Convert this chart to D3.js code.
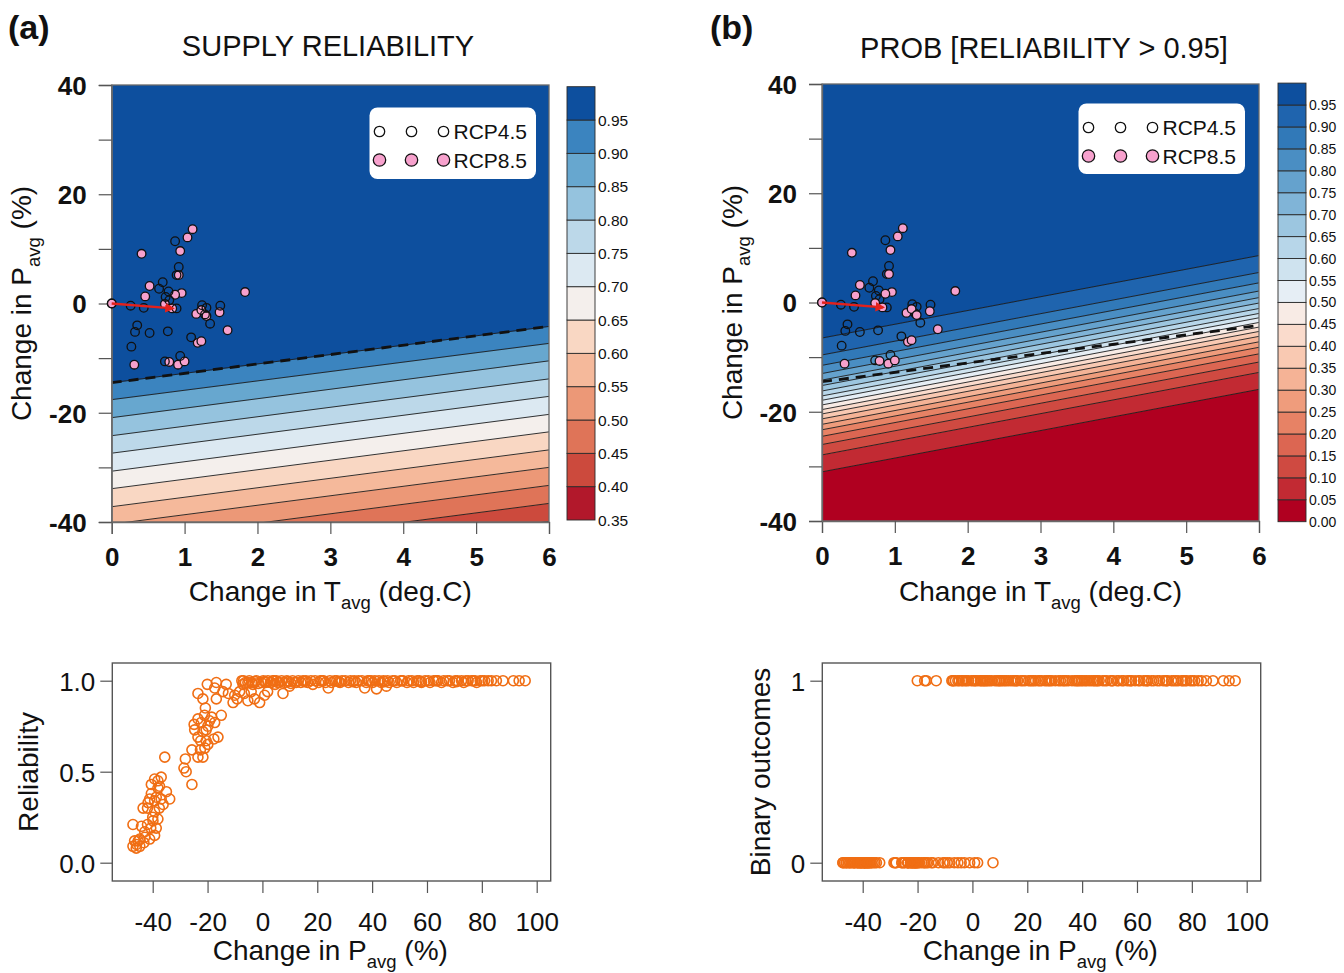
<!DOCTYPE html>
<html>
<head>
<meta charset="utf-8">
<script src="https://cdn.jsdelivr.net/npm/d3@7"></script>
<style>
  body { margin: 0; background: #fff; }
  svg { font-family: "Liberation Sans", Arial, sans-serif; }
</style>
</head>
<body>
<div id="chart"></div>
<script>
// ---- contour levels: P (%) where each level line hits T=0 and T=6
const relLevels = [0.40, 0.45, 0.50, 0.55, 0.60, 0.65, 0.70, 0.75, 0.80, 0.85, 0.90, 0.95];
const relAtT0 = [-50.3, -47.0, -43.7, -40.4, -37.2, -33.9, -30.7, -27.4, -24.2, -20.9, -17.6, -14.5];
const relAtT6 = [-39.9, -36.6, -33.3, -30.0, -26.8, -23.5, -20.3, -17.0, -13.8, -10.5, -7.3, -4.2];
const relBreaks = [0.35, 0.40, 0.45, 0.50, 0.55, 0.60, 0.65, 0.70, 0.75, 0.80, 0.85, 0.90, 0.95, 1.00];

const probLevels = [0.05, 0.10, 0.15, 0.20, 0.25, 0.30, 0.35, 0.40, 0.45, 0.50,
                    0.55, 0.60, 0.65, 0.70, 0.75, 0.80, 0.85, 0.90, 0.95];
const probAtT0 = [-31.0, -27.9, -26.0, -24.5, -23.3, -22.3, -21.3, -20.4, -19.6, -18.75,
                  -17.9, -17.1, -16.2, -15.2, -14.2, -13.0, -11.5, -9.6, -6.5];
const probAtT6 = [-15.9, -12.8, -10.9, -9.4, -8.2, -7.2, -6.2, -5.3, -4.5, -3.65,
                  -2.8, -2.0, -1.1, -0.1, 0.9, 2.1, 3.6, 5.5, 8.6];
const probBreaks = [0.00, 0.05, 0.10, 0.15, 0.20, 0.25, 0.30, 0.35, 0.40, 0.45, 0.50,
                    0.55, 0.60, 0.65, 0.70, 0.75, 0.80, 0.85, 0.90, 0.95, 1.00];

// reliability = 0.95 threshold (dashed)
const threshT = [0, 6];
const threshP = [-14.5, -4.2];

// GCM projections
const rcp45T = [0, 0.26, 0.44, 0.35, 0.32, 0.52, 0.27, 0.70, 0.65, 0.78, 0.74, 0.79, 0.89,
                0.77, 0.92, 0.89, 0.87, 1.24, 1.30, 1.35, 1.49, 1.09, 0.73, 0.94, 1.28];
const rcp45P = [0, -0.4, -0.8, -4.0, -5.2, -5.4, -7.9, 3.9, 2.7, 2.2, 1.2, 0.6, -0.9,
                -5.1, 6.7, 5.2, 11.4, -0.3, -0.8, -3.7, -0.4, -6.2, -10.6, -9.6, -2.0];
const rcp85T = [1.11, 1.04, 0.41, 0.94, 0.92, 0.52, 0.46, 0.96, 0.87, 0.73, 0.83, 1.83,
                1.16, 1.23, 1.30, 1.48, 1.59, 1.18, 1.23, 0.31, 0.79, 0.91, 1.00, 0];
const rcp85P = [13.6, 12.1, 9.1, 9.6, 5.2, 3.2, 1.3, 1.9, 1.6, -0.1, -0.9, 2.1,
                -1.9, -1.2, -2.3, -1.6, -4.9, -7.2, -6.9, -11.2, -10.7, -11.2, -10.6, 0];
const arrowT = [0, 0.84];
const arrowP = [0, -0.9];

// stress test runs: [change in P (%), reliability]
const runs = [
  [-47.2,0.09],[-46.0,0.08],[-44.7,0.09],[-46.6,0.12],[-44.7,0.13],[-42.9,0.14],[-41.1,0.13],
  [-39.3,0.15],[-45.3,0.12],[-47.2,0.21],[-44.1,0.20],[-41.9,0.21],[-39.9,0.23],[-38.1,0.24],
  [-40.7,0.19],[-42.9,0.17],[-38.7,0.19],[-43.5,0.30],[-41.9,0.30],[-41.1,0.35],[-40.5,0.38],
  [-38.7,0.36],[-36.9,0.35],[-35.0,0.39],[-33.8,0.35],[-41.7,0.33],[-39.3,0.34],[-38.1,0.45],
  [-36.9,0.47],[-39.3,0.46],[-40.5,0.43],[-38.1,0.41],[-36.2,0.32],[-39.3,0.28],[-37.5,0.42],
  [-40.0,0.25],[-35.6,0.58],[-45.9,0.10],[-43.2,0.11],[-37.6,0.30],
  [-28.1,0.57],[-28.6,0.52],[-27.8,0.50],[-25.7,0.43],[-25.7,0.62],[-22.6,0.62],[-23.5,0.58],
  [-21.7,0.58],[-22.5,0.67],[-20.5,0.67],[-17.7,0.68],[-16.2,0.69],[-19.9,0.65],[-21.0,0.63],
  [-24.9,0.76],[-23.5,0.79],[-21.1,0.81],[-19.3,0.78],[-17.4,0.77],[-24.7,0.73],[-21.7,0.72],
  [-19.9,0.75],[-23.5,0.69],[-15.0,0.81],[-20.5,0.73],[-22.3,0.77],[-18.5,0.80],[-20.8,0.85],
  [-23.5,0.93],[-21.7,0.90],[-20.1,0.98],[-16.8,0.99],[-17.4,0.96],[-16.8,0.90],[-14.4,0.94],
  [-13.2,0.98],[-10.7,0.88],[-10.1,0.92],[-8.3,0.94],[-7.1,0.98],[-5.3,0.99],[-5.3,0.89],
  [-2.9,0.90],[-1.0,0.88],[-3.5,0.98],[-0.4,0.99],[0.8,0.92],[3.2,0.99],[5.6,0.99],[7.5,0.93],
  [9.9,0.97],[11.7,0.99],[24.0,0.96],[37.3,0.96],[41.6,0.955],[45.2,0.97],
  [-12.4,0.93],[-9.2,0.90],[-6.6,0.93],[-4.1,0.94],[1.9,0.94],
  [-7.5,1],[-6.2,0.99],[-4.8,1],[-3.9,0.99],[-2.2,1],[-1.5,0.985],[0.3,1],[1.2,0.99],[2.0,1],
  [2.9,0.99],[3.8,1],[4.6,0.98],[5.1,1],[6.3,0.99],[7.0,1],[8.2,0.99],[8.9,1],[10.4,0.985],
  [11.0,1],[12.3,0.99],[13.1,1],[14.0,0.99],[14.8,1],[15.9,1],[16.5,0.99],[17.7,1],[18.4,0.98],
  [19.2,1],[20.5,0.99],[21.1,1],[22.3,1],[23.0,0.99],[24.6,1],[25.2,0.99],[26.4,1],[27.1,1],
  [28.3,0.99],[29.0,1],[30.2,1],[31.4,0.99],[32.1,1],[33.5,1],[34.2,0.99],[35.0,1],[36.3,1],
  [37.9,0.99],[38.4,1],[39.6,1],[40.2,0.99],[41.0,1],[42.5,1],[43.3,0.99],[44.1,1],[45.6,1],
  [46.2,0.99],[47.5,1],[48.3,1],[49.0,0.99],[50.4,1],[51.2,1],[52.7,0.99],[53.3,1],[54.5,1],
  [55.1,0.99],[56.4,1],[57.2,1],[58.0,0.99],[59.3,1],[60.5,1],[61.1,0.99],[62.4,1],[63.2,1],
  [64.0,1],[65.3,0.99],[66.1,1],[67.4,1],[68.2,1],[69.5,0.99],[70.3,1],[71.1,1],[72.6,1],
  [73.4,0.99],[74.2,1],[75.0,1],[76.3,1],[77.5,1],[78.1,0.99],[79.4,1],[80.2,1],[81.0,1],
  [82.3,1],[83.5,1],[85.3,1],[87.7,1],[91.5,1],[93.6,1],[95.8,1],
  [-6.9,1],[-2.7,0.995],[0.9,0.995],[4.2,1],[9.5,0.995],[15.4,0.995],[21.7,1],[27.8,0.995],
  [33.0,0.995],[38.9,1],[44.6,0.995],[50.9,1],[57.8,0.995],[63.7,1],[70.8,0.995],[76.8,1]
];

const xTicksT = [0, 1, 2, 3, 4, 5, 6];
const yTicksP = [-40, -30, -20, -10, 0, 10, 20, 30, 40];
const xTicksBottom = [-40, -20, 0, 20, 40, 60, 80, 100];

// colours
const relColors = ["#b2182b","#cc4a3d","#df7458","#ec9877","#f5b99b","#f9d7c3","#f4efec",
                   "#dce9f2","#bcd8e9","#95c3de","#67a7cf","#3b84bf","#0d4f9e"];
const probColors = ["#b00020","#c22a33","#cf4a41","#dc6652","#e78265","#ef9c7c","#f5b396",
                    "#f9c9b2","#fadbcc","#f8ebe5","#e6eef5","#cfe3ef","#b7d6e9","#9cc6e0",
                    "#80b4d7","#65a2cd","#4a8ec3","#3179b8","#1f64ae","#0d4f9e"];
const pink = "#f7a1cd";
const orange = "#f06e14";

const svg = d3.select("#chart").append("svg")
  .attr("width", 1344)
  .attr("height", 973);

svg.append("defs").append("marker")
  .attr("id", "arrowhead")
  .attr("viewBox", "0 0 10 10")
  .attr("refX", 8).attr("refY", 5)
  .attr("markerWidth", 4).attr("markerHeight", 4)
  .attr("orient", "auto")
  .append("path").attr("d", "M0,0 L10,5 L0,10 z").attr("fill", "#e3211c");

// subscript label helper
function subLabel(t, before, sub, after, size) {
  t.append("tspan").text(before);
  t.append("tspan").attr("font-size", size * 0.66).attr("dy", size * 0.3).text(sub);
  t.append("tspan").attr("dy", -size * 0.3).text(after);
}

function contourPanel(cfg) {
  var x = d3.scaleLinear().domain([0, 6]).range(cfg.xRange);
  var y = d3.scaleLinear().domain([-40, 40]).range(cfg.yRange);
  var g = svg.append("g");

  svg.select("defs").append("clipPath").attr("id", "clip" + cfg.id)
    .append("rect")
    .attr("x", x(0)).attr("y", y(40))
    .attr("width", x(6) - x(0)).attr("height", y(-40) - y(40));

  var inner = g.append("g").attr("clip-path", "url(#clip" + cfg.id + ")");

  var area = d3.area()
    .x(d => x(d[0]))
    .y0(d => y(d[1]))
    .y1(d => y(d[2]));
  var n = cfg.at0.length;
  cfg.colors.forEach(function(c, i) {
    var lo0 = i === 0 ? -300 : cfg.at0[i - 1];
    var lo6 = i === 0 ? -300 : cfg.at6[i - 1];
    var hi0 = i === n ? 300 : cfg.at0[i];
    var hi6 = i === n ? 300 : cfg.at6[i];
    inner.append("path")
      .attr("d", area([[0, lo0, hi0], [6, lo6, hi6]]))
      .attr("fill", c)
      .attr("stroke", c).attr("stroke-width", 0.5);
  });

  var line = d3.line().x(d => x(d[0])).y(d => y(d[1]));
  cfg.at0.forEach(function(p, i) {
    inner.append("path")
      .attr("d", line([[0, p], [6, cfg.at6[i]]]))
      .attr("fill", "none")
      .attr("stroke", "#1c1c1c")
      .attr("stroke-width", 0.9);
  });

  // dashed 0.95 reliability threshold
  g.append("path")
    .attr("d", line(threshT.map((t, i) => [t, threshP[i]])))
    .attr("fill", "none")
    .attr("stroke", "#111")
    .attr("stroke-width", 2.8)
    .attr("stroke-dasharray", "10,7");

  // box
  g.append("rect")
    .attr("x", x(0)).attr("y", y(40))
    .attr("width", x(6) - x(0)).attr("height", y(-40) - y(40))
    .attr("fill", "none").attr("stroke", "#6a6a6a").attr("stroke-width", 1.3);

  // axes
  var ax = g.append("g").attr("transform", "translate(0," + y(-40) + ")")
    .call(d3.axisBottom(x).tickValues(xTicksT).tickSize(12).tickPadding(14).tickFormat(d => d));
  var ay = g.append("g").attr("transform", "translate(" + x(0) + ",0)")
    .call(d3.axisLeft(y).tickValues(yTicksP).tickSize(13).tickPadding(12)
      .tickFormat(d => d % 20 === 0 ? d : ""));
  [ax, ay].forEach(function(a) {
    a.select(".domain").attr("stroke", "#6a6a6a").attr("stroke-width", 1.3);
    a.selectAll(".tick line").attr("stroke", "#555").attr("stroke-width", 1.2);
    a.selectAll("text").attr("font-size", 26).attr("font-weight", "bold")
      .attr("fill", "#111").attr("font-family", "Liberation Sans, Arial, sans-serif");
  });
  ay.selectAll("text").attr("dy", "0.36em");

  // points
  function drawSet(T, P, fill) {
    g.selectAll(null).data(T).enter().append("circle")
      .attr("cx", d => x(d))
      .attr("cy", (d, i) => y(P[i]))
      .attr("r", 4.3)
      .attr("fill", fill)
      .attr("stroke", "#111")
      .attr("stroke-width", 1.3);
  }
  if (cfg.pinkOnTop) {
    drawSet(rcp45T, rcp45P, "none");
    drawSet(rcp85T, rcp85P, pink);
  } else {
    drawSet(rcp85T, rcp85P, pink);
    drawSet(rcp45T, rcp45P, "none");
  }

  // change arrow
  g.append("path")
    .attr("d", line(arrowT.map((t, i) => [t, arrowP[i]])))
    .attr("stroke", "#e3211c")
    .attr("stroke-width", 2.4)
    .attr("marker-end", "url(#arrowhead)");

  // legend
  var L = cfg.legend;
  g.append("rect")
    .attr("x", L.x).attr("y", L.y).attr("width", L.w).attr("height", L.h)
    .attr("rx", 8).attr("fill", "#fff");
  [["RCP4.5", "none", 5.2], ["RCP8.5", pink, 6.2]].forEach(function(e, r) {
    var cy = L.y + 24 + r * 28.5;
    [0, 1, 2].forEach(function(k) {
      g.append("circle")
        .attr("cx", L.x + 10 + k * 32).attr("cy", cy).attr("r", e[2])
        .attr("fill", e[1]).attr("stroke", "#111").attr("stroke-width", 1.3);
    });
    g.append("text")
      .attr("x", L.x + 84).attr("y", cy + 7.5)
      .attr("font-size", 21).attr("fill", "#111")
      .text(e[0]);
  });

  // colour bar
  var cb = d3.scaleLinear().domain(cfg.cbDomain).range(cfg.cbRange);
  var cbg = g.append("g");
  cfg.colors.forEach(function(c, i) {
    cbg.append("rect")
      .attr("x", cfg.cbX).attr("y", cb(cfg.breaks[i + 1]))
      .attr("width", 28).attr("height", cb(cfg.breaks[i]) - cb(cfg.breaks[i + 1]))
      .attr("fill", c).attr("stroke", "#2a2a2a").attr("stroke-width", 0.9);
  });
  cfg.breaks.slice(0, -1).forEach(function(b) {
    cbg.append("text")
      .attr("x", cfg.cbX + 31).attr("y", cb(b))
      .attr("dy", "0.36em")
      .attr("font-size", cfg.cbFont).attr("fill", "#111")
      .text(b.toFixed(2));
  });

  // titles
  var xt = g.append("text")
    .attr("x", (x(0) + x(6)) / 2 + 0).attr("y", 601)
    .attr("text-anchor", "middle").attr("font-size", 28).attr("fill", "#111");
  subLabel(xt, "Change in T", "avg", " (deg.C)", 28);

  var yt = g.append("text")
    .attr("transform", "translate(" + (x(0) - 80.5) + "," + ((y(40) + y(-40)) / 2) + ") rotate(-90)")
    .attr("text-anchor", "middle").attr("font-size", 28).attr("fill", "#111");
  subLabel(yt, "Change in P", "avg", " (%)", 28);

  g.append("text")
    .attr("x", cfg.titleX).attr("y", cfg.titleY)
    .attr("text-anchor", "middle").attr("font-size", 29).attr("fill", "#111")
    .text(cfg.title);
  g.append("text")
    .attr("x", cfg.tagX).attr("y", 39)
    .attr("font-size", 34).attr("font-weight", "bold").attr("fill", "#111")
    .text(cfg.tag);
}

contourPanel({
  id: "a", tag: "(a)", tagX: 8, title: "SUPPLY RELIABILITY", titleX: 328, titleY: 56,
  xRange: [111.7, 549], yRange: [522, 85],
  at0: relAtT0, at6: relAtT6, colors: relColors, breaks: relBreaks,
  cbDomain: [0.35, 1.0], cbRange: [520, 86.7], cbX: 567, cbFont: 15.5,
  legend: {x: 369.5, y: 107.5, w: 166.5, h: 71.5},
  pinkOnTop: false
});
contourPanel({
  id: "b", tag: "(b)", tagX: 710, title: "PROB [RELIABILITY > 0.95]", titleX: 1044, titleY: 58,
  xRange: [822, 1259], yRange: [521, 84],
  at0: probAtT0, at6: probAtT6, colors: probColors, breaks: probBreaks,
  cbDomain: [0, 1], cbRange: [521.7, 83.1], cbX: 1278, cbFont: 14,
  legend: {x: 1078.5, y: 103.5, w: 166.5, h: 70.5},
  pinkOnTop: true
});

// ---- bottom scatter panels
function scatterPanel(cfg) {
  var x = d3.scaleLinear().domain([-40, 100]).range([cfg.left + 40.4, cfg.left + 424.4]);
  var y = d3.scaleLinear().domain([0, 1]).range([862.7, 680.7]);
  var g = svg.append("g");

  g.selectAll(null).data(runs).enter().append("circle")
    .attr("cx", d => x(d[0]))
    .attr("cy", d => y(cfg.value(d)))
    .attr("r", 5)
    .attr("fill", "none")
    .attr("stroke", orange)
    .attr("stroke-width", 1.6);

  g.append("rect")
    .attr("x", cfg.left).attr("y", 663)
    .attr("width", 438.4).attr("height", 218)
    .attr("fill", "none").attr("stroke", "#555").attr("stroke-width", 1.4);

  var ax = g.append("g").attr("transform", "translate(0,881)")
    .call(d3.axisBottom(x).tickValues(xTicksBottom).tickSize(12).tickPadding(20).tickFormat(d => d));
  var ay = g.append("g").attr("transform", "translate(" + cfg.left + ",0)")
    .call(d3.axisLeft(y).tickValues(cfg.yTicks).tickSize(12).tickPadding(5).tickFormat(cfg.yFormat));
  [ax, ay].forEach(function(a) {
    a.select(".domain").remove();
    a.selectAll(".tick line").attr("stroke", "#555").attr("stroke-width", 1.2);
    a.selectAll("text").attr("font-size", 26).attr("fill", "#111")
      .attr("font-family", "Liberation Sans, Arial, sans-serif");
  });
  ay.selectAll("text").attr("dy", "0.36em");

  var xt = g.append("text")
    .attr("x", cfg.left + 218).attr("y", 960)
    .attr("text-anchor", "middle").attr("font-size", 28).attr("fill", "#111");
  subLabel(xt, "Change in P", "avg", " (%)", 28);

  g.append("text")
    .attr("transform", "translate(" + (cfg.left + cfg.yTitleDx) + ",772) rotate(-90)")
    .attr("text-anchor", "middle").attr("font-size", 28).attr("fill", "#111")
    .text(cfg.yTitle);
}

scatterPanel({
  left: 112.3, yTicks: [0, 0.5, 1], yFormat: d3.format(".1f"),
  value: d => d[1], yTitle: "Reliability", yTitleDx: -74
});
scatterPanel({
  left: 822.3, yTicks: [0, 1], yFormat: d => d,
  value: d => (d[1] >= 0.95 ? 1 : 0), yTitle: "Binary outcomes", yTitleDx: -52
});
</script>
</body>
</html>
